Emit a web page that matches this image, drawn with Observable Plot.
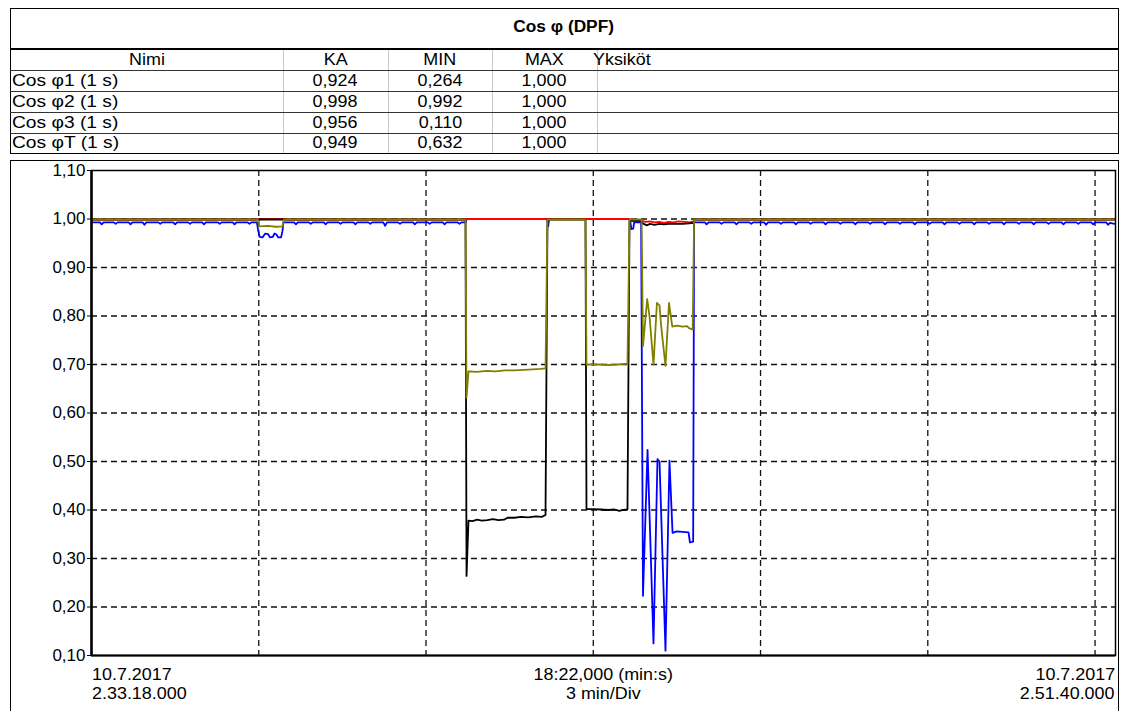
<!DOCTYPE html>
<html>
<head>
<meta charset="utf-8">
<script src="https://cdn.jsdelivr.net/npm/d3@7"></script>
<script src="https://cdn.jsdelivr.net/npm/@observablehq/plot@0.6"></script>
<style>
  body { margin: 0; background: #fff; font-family: "Liberation Sans", Arial, sans-serif; color: #000; }
  #page { position: relative; width: 1127px; height: 711px; overflow: hidden; background: #fff; }
  .ln { position: absolute; }
  .tx { position: absolute; font-size: 16px; line-height: 20px; white-space: nowrap; }
  .tx span { display: inline-block; transform: scaleX(1.12); }
  #chart { position: absolute; left: 0; top: 160px; }
</style>
</head>
<body>
<div id="page"><div id="chart"></div></div>
<script>
// ---- Summary table ----
const titleText = "Cos φ (DPF)";
const headers = ["Nimi", "KA", "MIN", "MAX", "Yksiköt"];
const seriesNames = ["Cos φ1 (1 s)", "Cos φ2 (1 s)", "Cos φ3 (1 s)", "Cos φT (1 s)"];
const avgVals = [0.924, 0.998, 0.956, 0.949];
const minVals = [0.264, 0.992, 0.110, 0.632];
const maxVals = [1.000, 1.000, 1.000, 1.000];
const seriesColors = ["#000000", "#ff0000", "#0000ff", "#808000"];

// ---- Axis labels ----
const yTicks = [0.10, 0.20, 0.30, 0.40, 0.50, 0.60, 0.70, 0.80, 0.90, 1.00, 1.10];
const xDivSeconds = [180, 360, 540, 720, 900, 1080];   // 3 min/Div
const spanSeconds = 1102;                              // 18:22,000
const startLabel = ["10.7.2017", "2.33.18.000"];
const endLabel = ["10.7.2017", "2.51.40.000"];
const midLabel = ["18:22,000 (min:s)", "3 min/Div"];

// ---- Series: [seconds from start, cos φ] ----
const phi1 = [
  [0, 0.999], [402.5, 0.999], [403.6, minVals[0]], [405.7, 0.378], [410, 0.377], [415, 0.380],
  [420, 0.378], [426, 0.379], [432, 0.381], [438, 0.379], [444, 0.380], [447.7, 0.384],
  [455, 0.384], [462, 0.386], [470, 0.385], [478, 0.387], [485, 0.386], [488.6, 0.390],
  [490.7, 0.999], [531.6, 0.999], [532.7, 0.402], [540, 0.402], [548, 0.401], [556, 0.400],
  [563, 0.401], [568, 0.398], [572, 0.400], [576.8, 0.401], [579, 0.997], [591, 0.996],
  [594, 0.990], [598, 0.987], [601, 0.990], [606, 0.988], [611, 0.990], [616, 0.989],
  [621, 0.990], [628, 0.990], [636, 0.990], [643, 0.991], [647.9, 0.992], [649, 0.999],
  [1101, 0.999]
];

const phi2 = [
  [0, 0.999], [179, 0.999], [180.5, 1.000], [205.5, 1.000], [207, 0.999], [402.5, 0.999],
  [403.6, 1.000], [579, 1.000], [581, 0.996], [586, 0.995], [591, 0.997], [596, 0.994],
  [601, 0.995], [606, 0.993], [611, 0.994], [616, minVals[1]], [621, 0.994], [626, 0.993],
  [632, 0.995], [638, 0.994], [644, 0.993], [647.9, 0.995], [649, 0.999], [1101, 0.999]
];

const phi3 = [
  [0, 0.993], [9, 0.993], [11, 0.989], [13, 0.993], [24, 0.993], [26, 0.990], [28, 0.993],
  [40, 0.993], [42, 0.989], [44, 0.993], [55, 0.993], [57, 0.988], [59, 0.993], [72, 0.993],
  [74, 0.990], [76, 0.993], [88, 0.993], [90, 0.989], [92, 0.993], [104, 0.993], [106, 0.990],
  [108, 0.993], [119, 0.993], [121, 0.989], [123, 0.993], [136, 0.993], [138, 0.990],
  [140, 0.993], [152, 0.993], [154, 0.989], [156, 0.993], [168, 0.993], [170, 0.990],
  [172, 0.993], [178, 0.993],
  [179.5, 0.975], [181, 0.963], [184, 0.962], [187, 0.970], [190, 0.969], [192, 0.962],
  [195, 0.963], [197, 0.970], [199, 0.968], [201, 0.962], [204, 0.962], [205.5, 0.975],
  [206.5, 0.993],
  [218, 0.993], [220, 0.989], [222, 0.993], [234, 0.993], [236, 0.990], [238, 0.993],
  [250, 0.993], [252, 0.989], [254, 0.993], [266, 0.993], [268, 0.990], [270, 0.993],
  [282, 0.993], [284, 0.989], [286, 0.993], [298, 0.993], [300, 0.990], [302, 0.993],
  [314, 0.993], [316, 0.986], [318, 0.993], [330, 0.993], [332, 0.990], [334, 0.993],
  [346, 0.993], [348, 0.989], [350, 0.993], [362, 0.993], [364, 0.990], [366, 0.993],
  [378, 0.993], [380, 0.989], [382, 0.993], [394, 0.993], [396, 0.990], [398, 0.993],
  [402.5, 0.993],
  [403.6, 1.000], [490.7, 1.000], [491.5, 0.985], [492.5, 1.000], [531.6, 1.000], [579, 1.000],
  [580, 0.993], [581, 0.979], [583, 0.980], [584, 0.993], [591.5, 0.993],
  [593.5, 0.223], [598.4, 0.524], [604.8, 0.125], [609.1, 0.505], [611.3, 0.500],
  [617.7, minVals[2]], [622, 0.502], [625.3, 0.353], [630, 0.356], [636, 0.355],
  [642.5, 0.354], [644, 0.333], [647.5, 0.335], [648.5, 0.993],
  [660, 0.993], [662, 0.989], [664, 0.993], [676, 0.993], [678, 0.990], [680, 0.993],
  [692, 0.993], [694, 0.989], [696, 0.993], [708, 0.993], [710, 0.990], [712, 0.993],
  [724, 0.993], [726, 0.988], [728, 0.993], [740, 0.993], [742, 0.990], [744, 0.993],
  [756, 0.993], [758, 0.989], [760, 0.993], [772, 0.993], [774, 0.990], [776, 0.993],
  [788, 0.993], [790, 0.989], [792, 0.993], [804, 0.993], [806, 0.990], [808, 0.993],
  [820, 0.993], [822, 0.989], [824, 0.993], [836, 0.993], [838, 0.990], [840, 0.993],
  [852, 0.993], [854, 0.989], [856, 0.993], [868, 0.993], [870, 0.990], [872, 0.993],
  [884, 0.993], [886, 0.989], [888, 0.993], [900, 0.993], [902, 0.990], [904, 0.993],
  [916, 0.993], [918, 0.989], [920, 0.993], [932, 0.993], [934, 0.990], [936, 0.993],
  [948, 0.993], [950, 0.989], [952, 0.993], [964, 0.993], [966, 0.990], [968, 0.993],
  [980, 0.993], [982, 0.989], [984, 0.993], [996, 0.993], [998, 0.990], [1000, 0.993],
  [1012, 0.993], [1014, 0.989], [1016, 0.993], [1028, 0.993], [1030, 0.990], [1032, 0.993],
  [1044, 0.993], [1046, 0.989], [1048, 0.993], [1060, 0.993], [1062, 0.990], [1064, 0.993],
  [1076, 0.993], [1078, 0.989], [1080, 0.993], [1092, 0.993], [1094, 0.988], [1096, 0.992],
  [1101, 0.990]
];

const phiT = [
  [0, 0.999], [179, 0.999], [180.5, 0.985], [190, 0.986], [198, 0.984], [205.5, 0.985],
  [207, 0.999], [402.5, 0.999], [403.6, minVals[3]], [405.7, 0.686], [415, 0.685],
  [425, 0.687], [435, 0.686], [445, 0.688], [455, 0.688], [465, 0.689], [475, 0.690],
  [483, 0.691], [488.6, 0.692], [490.7, 0.999], [531.6, 0.999], [532.7, 0.700],
  [545, 0.700], [556, 0.699], [566, 0.700], [576.8, 0.702], [579, 0.999], [592, 0.999],
  [593.5, 0.738], [598, 0.835], [600.5, 0.800], [604.8, 0.700], [608.5, 0.827],
  [611.3, 0.822], [613, 0.780], [617.7, 0.697], [621.5, 0.827], [625, 0.778], [630, 0.780],
  [636, 0.778], [641, 0.779], [643, 0.775], [647, 0.772], [648.5, 0.999], [1101, 0.999]
];

// ---- Page helpers ----
const page = document.getElementById("page");
function line(x, y, w, h, color) {
  const d = document.createElement("div");
  d.className = "ln";
  Object.assign(d.style, { left: x + "px", top: y + "px", width: w + "px", height: h + "px", background: color });
  page.appendChild(d);
}
function text(str, x, y, align, opts = {}) {
  const d = document.createElement("div");
  d.className = "tx";
  const s = document.createElement("span");
  s.textContent = str;
  d.appendChild(s);
  d.style.top = (y - 10) + "px";
  if (align === "center") {
    d.style.left = (x - 300) + "px"; d.style.width = "600px"; d.style.textAlign = "center";
    s.style.transformOrigin = "50% 50%";
  } else if (align === "right") {
    d.style.left = (x - 600) + "px"; d.style.width = "600px"; d.style.textAlign = "right";
    s.style.transformOrigin = "100% 50%";
  } else {
    d.style.left = x + "px";
    s.style.transformOrigin = "0% 50%";
  }
  if (opts.bold) d.style.fontWeight = "bold";
  if (opts.scale) s.style.transform = `scaleX(${opts.scale})`;
  page.appendChild(d);
}
const fmt3 = v => v.toFixed(3).replace(".", ",");

// Title box
const L = 10, R = 1118;
line(L, 8, R - L, 1, "#000");
line(L, 8, 1, 146, "#000");
line(R, 8, 1, 146, "#000");
line(L, 48, R - L, 2, "#000");
text(titleText, (L + R) / 2, 27, "center", { bold: true, scale: 1.08 });

// Table grid
const colEdges = [L, 283, 388, 492, 597, R];
const rowEdges = [50, 70, 91, 112, 133, 153];
for (let i = 1; i < 5; i++) line(colEdges[i], 50, 1, 103, "#c8c8c8");
for (let j = 1; j < 5; j++) line(L, rowEdges[j], R - L, 1, "#333");
line(L, 153, R - L + 1, 1, "#000");

const colCenter = i => (colEdges[i] + colEdges[i + 1]) / 2;
const rowCenter = j => (rowEdges[j] + rowEdges[j + 1]) / 2;
headers.forEach((h, i) => {
  if (i === 4) text(h, 593, rowCenter(0), "left");
  else text(h, colCenter(i), rowCenter(0), "center");
});
seriesNames.forEach((n, r) => {
  text(n, 12, rowCenter(r + 1), "left", { scale: 1.2 });
  text(fmt3(avgVals[r]), colCenter(1), rowCenter(r + 1), "center");
  text(fmt3(minVals[r]), colCenter(2), rowCenter(r + 1), "center");
  text(fmt3(maxVals[r]), colCenter(3), rowCenter(r + 1), "center");
});

// Chart box
line(L, 160, R - L + 1, 1, "#000");
line(L, 160, 1, 560, "#000");
line(R, 160, 1, 560, "#000");

// ---- Chart ----
const series = [
  { data: phi3, color: seriesColors[2] },
  { data: phi2, color: seriesColors[1] },
  { data: phi1, color: seriesColors[0] },
  { data: phiT, color: seriesColors[3] }
];

const chart = Plot.plot({
  width: 1127,
  height: 551,
  marginTop: 10,
  marginBottom: 56,
  marginLeft: 91,
  marginRight: 12,
  style: { fontFamily: '"Liberation Sans", Arial, sans-serif', fontSize: "17px", background: "transparent", color: "#000", overflow: "visible" },
  x: { domain: [0, spanSeconds], axis: null },
  y: {
    domain: [0.1, 1.1],
    ticks: yTicks,
    tickFormat: d => d.toFixed(2).replace(".", ","),
    tickSize: 4,
    tickPadding: 2,
    label: null
  },
  marks: [
    Plot.ruleX(xDivSeconds, { stroke: "#111", strokeWidth: 1.3, strokeDasharray: "6,4" }),
    Plot.ruleY(yTicks.slice(1, -1), { stroke: "#111", strokeWidth: 1.3, strokeDasharray: "6,4" }),
    ...series.map(s => Plot.line(s.data, { x: d => d[0], y: d => d[1], stroke: s.color, strokeWidth: 1.8 })),
    Plot.frame({ stroke: "#000", strokeWidth: 1.5 }),
    Plot.ruleX([0], { stroke: "#000", strokeWidth: 2.5 }),
    Plot.ruleY([0.1], { stroke: "#000", strokeWidth: 2 })
  ]
});
document.getElementById("chart").appendChild(chart);

// Time labels under the plot
const x0 = 92, xMid = (91 + 1115) / 2, x1 = 1115;
text(startLabel[0], x0, 675, "left");
text(startLabel[1], x0, 694, "left");
text(midLabel[0], xMid, 675, "center");
text(midLabel[1], xMid, 694, "center");
text(endLabel[0], x1, 675, "right");
text(endLabel[1], x1, 694, "right");
</script>
</body>
</html>
